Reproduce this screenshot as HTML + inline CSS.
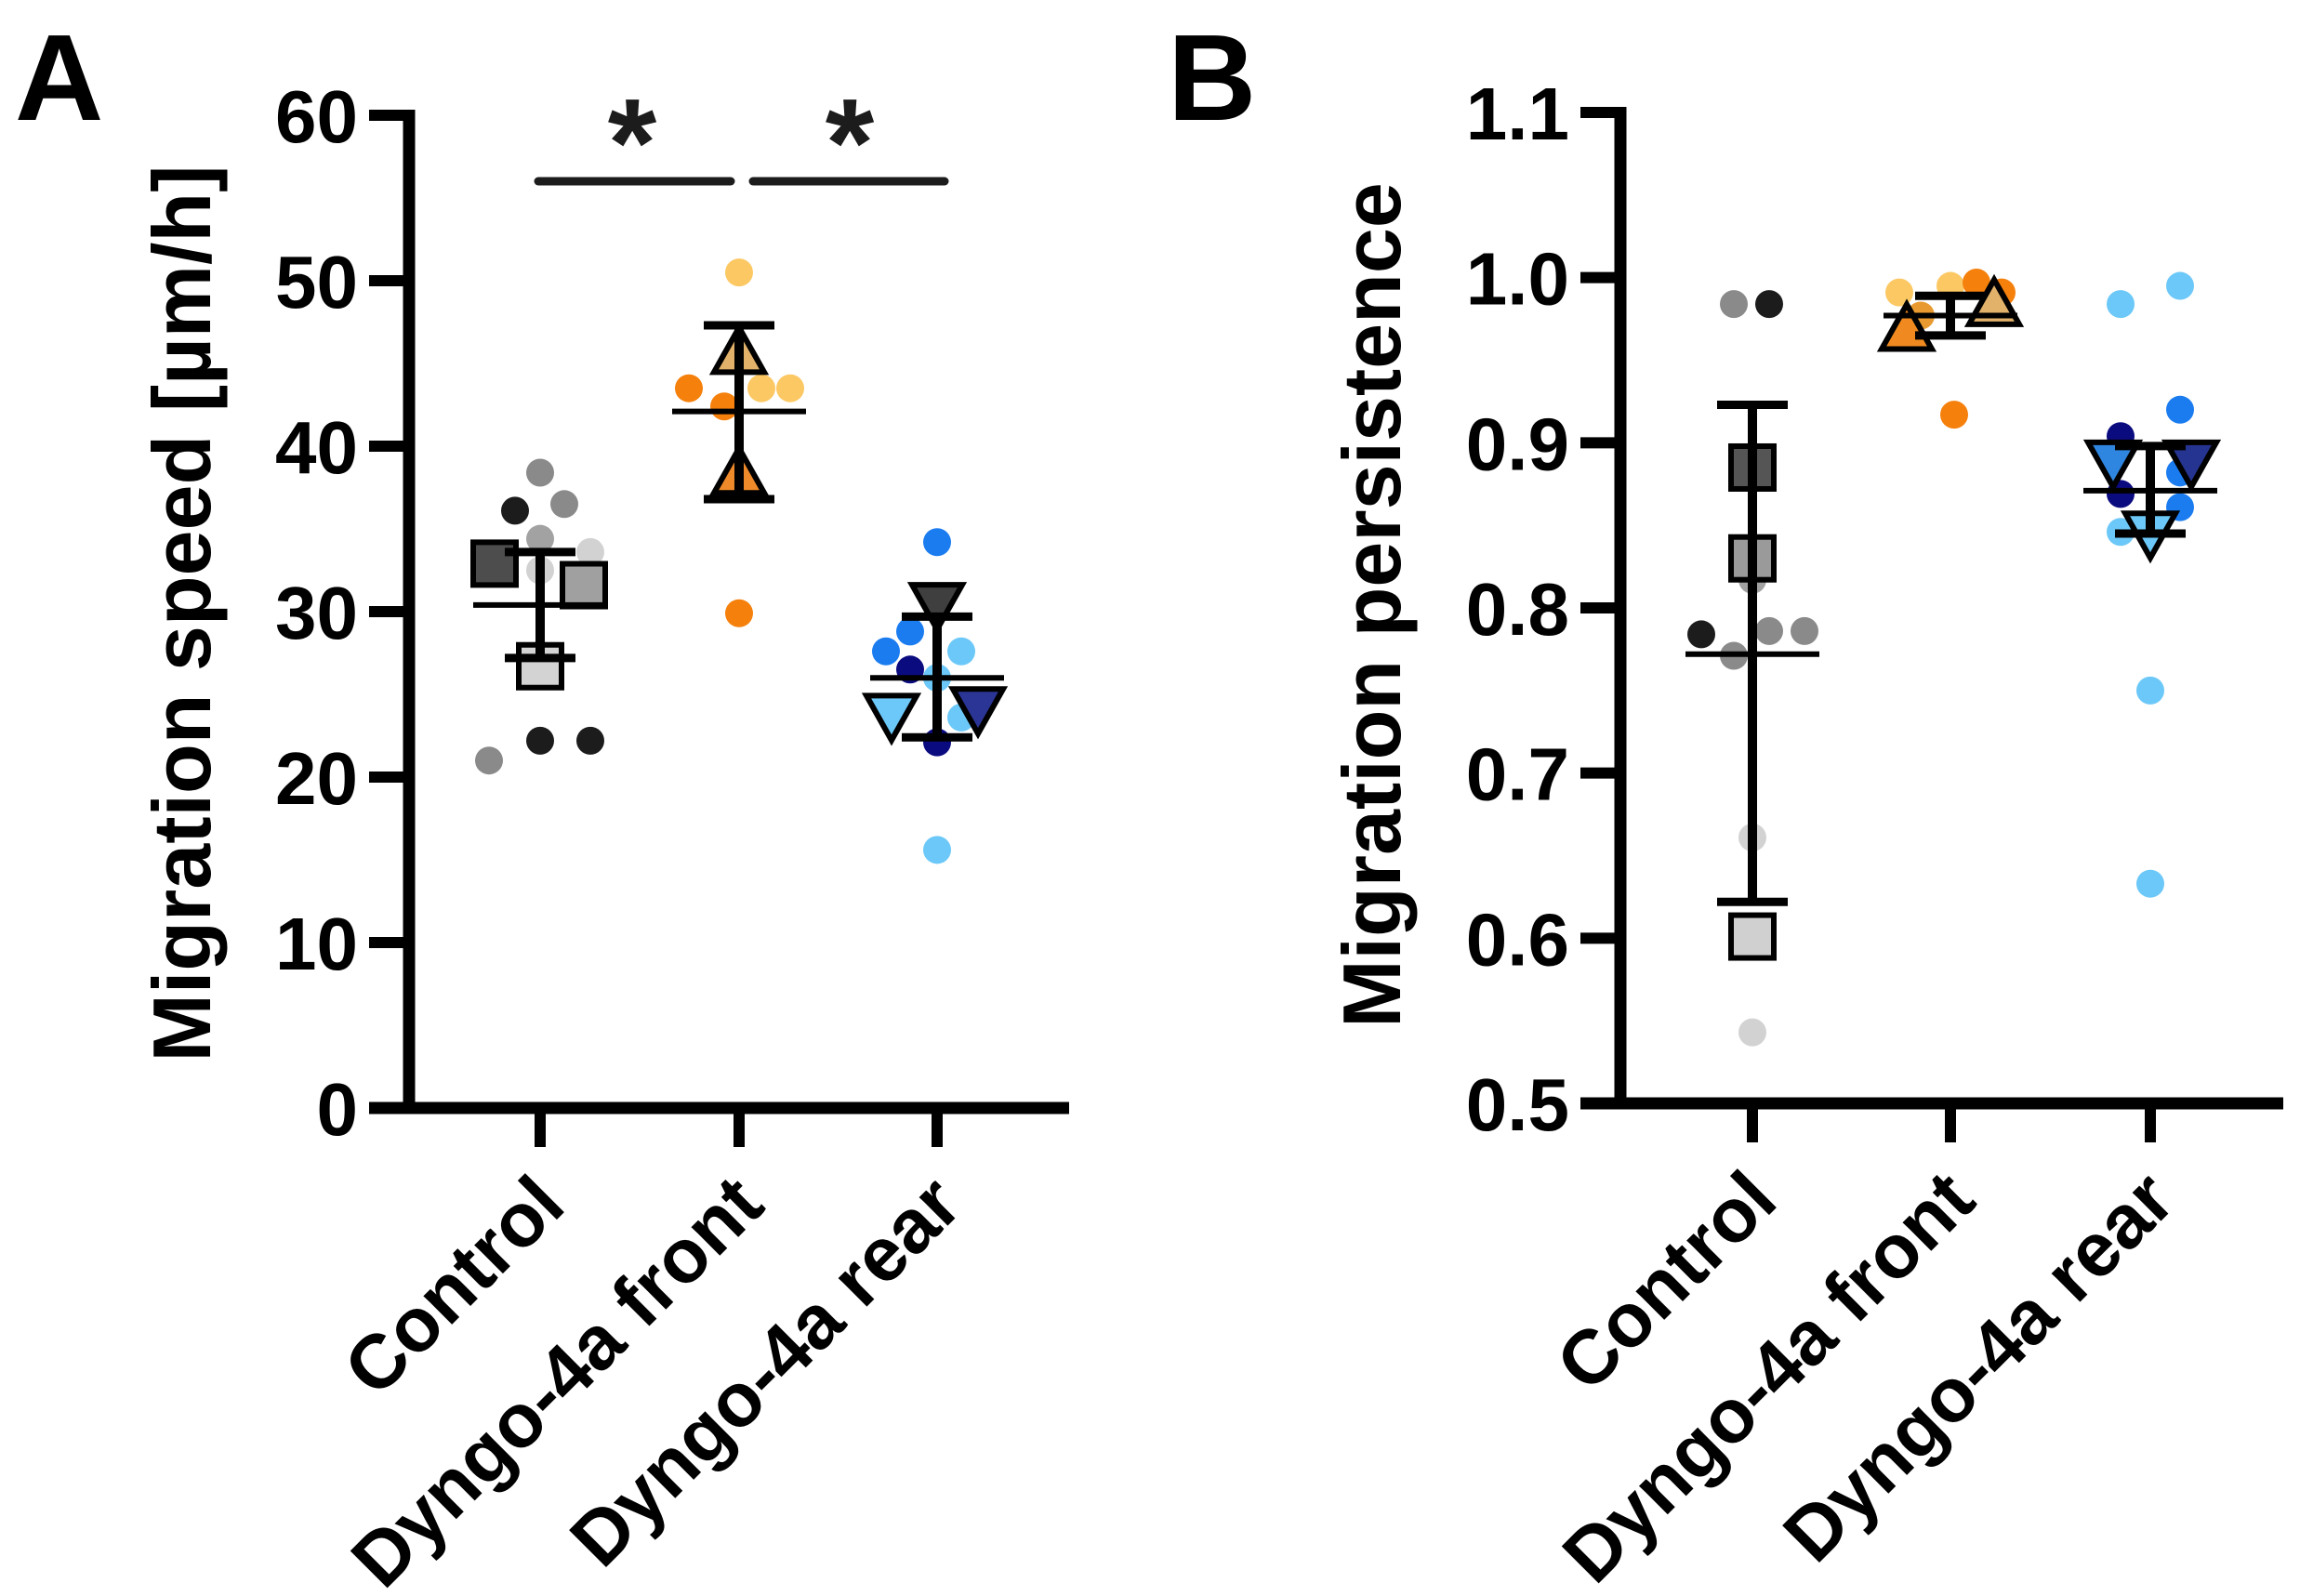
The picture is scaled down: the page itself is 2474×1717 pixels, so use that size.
<!DOCTYPE html>
<html><head><meta charset="utf-8"><style>
html,body{margin:0;padding:0;background:#fff;}
svg{display:block;font-family:"Liberation Sans",Arial,sans-serif;font-weight:bold;}
</style></head>
<body>
<svg id="fig" width="2474" height="1717" viewBox="0 0 2474 1717" xmlns="http://www.w3.org/2000/svg"></svg>
<script>
// ---------- DATA ----------
const categories = ["Control", "Dyngo-4a front", "Dyngo-4a rear"];
const ticksA = [0,10,20,30,40,50,60];
const tickLabelsA = ["0","10","20","30","40","50","60"];
const ticksB = [0.5,0.6,0.7,0.8,0.9,1.0,1.1];
const tickLabelsB = ["0.5","0.6","0.7","0.8","0.9","1.0","1.1"];

// Panel A – migration speed, individual cells
const speedCtrlCells = [38.4,36.1,36.5,34.4,33.6,32.5,27.4,22.2,22.2,21.0];
const speedFrontCells = [50.5,43.5,42.4,43.5,43.5,29.9];
const speedRearCells = [34.2,28.8,27.6,27.6,26.5,26.0,23.6,22.1,15.6];
// experiment means
const speedCtrlExp = [32.9,31.6,26.7];
const speedFrontExp = [45.6,38.3];
const speedRearExp = [30.5,23.8,24.2];
// mean and error
const speedMean = [30.4,42.1,26.0];
const speedErrHi = [33.6,47.3,29.7];
const speedErrLo = [27.2,36.8,22.4];

// Panel B – persistence
const persCtrlCells = [0.984,0.984,0.890,0.817,0.784,0.786,0.786,0.771,0.661,0.543];
const persFrontCells = [0.991,0.995,0.997,0.991,0.977,0.917];
const persRearCells = [0.984,0.995,0.920,0.904,0.869,0.882,0.861,0.846,0.750,0.633];
const persCtrlExp = [0.885,0.830,0.601];
const persFrontExp = [0.968,0.983];
const persRearExp = [0.889,0.889,0.846];
const persMean = [0.772,0.977,0.871];
const persErrHi = [0.923,0.989,0.898];
const persErrLo = [0.622,0.965,0.845];

// ---------- STYLE / LAYOUT (jitter offsets & colors) ----------
const K="#1c1c1c",G="#8a8a8a",M="#a2a2a2",L="#d2d2d2";
const OR="#f5800c",LO="#fcc863",TAN="#e2b26a";
const BL="#1b7cf0",NV="#0b0b80",LB="#6cc8f8";
const jA = [
 {dx:[0,-27,26,0,54,0,0,0,54,-55], col:[G,K,G,M,L,L,L,K,K,G],
  mdx:[-49,47,0], mcol:["#4d4d4d","#a0a0a0","#d3d3d3"], shape:"sq"},
 {dx:[0,-54,-16,24,55,0], col:[LO,OR,OR,LO,LO,OR],
  mdx:[0,0], mcol:[TAN,"#ef8a2a"], shape:"up"},
 {dx:[0,-29,-55,26,-29,0,26,0,0], col:[BL,BL,BL,LB,NV,LB,LB,NV,LB],
  mdx:[0,-49,44], mcol:["#3f3f3f",LB,"#2b3595"], shape:"dn"}
];
const jB = [
 {dx:[-20,18,0,0,-55,18,56,-20,0,0], col:[G,K,"#333",M,K,G,G,G,L,L],
  mdx:[0,0,0], mcol:["#555","#9a9a9a","#d0d0d0"], shape:"sq"},
 {dx:[-55,0,28,55,-32,4], col:[LO,LO,OR,OR,"#e89a30",OR],
  mdx:[-47,47], mcol:["#f08a20",TAN], shape:"up"},
 {dx:[-32,32,32,-32,-32,32,32,-32,0,0], col:[LB,LB,BL,NV,NV,BL,BL,LB,LB,LB],
  mdx:[-40,44,0], mcol:["#2f86e0","#253490",LB], shape:"dn"}
];

const svg=document.getElementById('fig');
const NS="http://www.w3.org/2000/svg";
function mk(tag,attrs,parent){const e=document.createElementNS(NS,tag);for(const k in attrs)e.setAttribute(k,attrs[k]);(parent||svg).appendChild(e);return e;}

function panel(cfg){
  const g=mk('g',{});
  
  
  const y=v=>cfg.y0+(v-cfg.vmin)/(cfg.vmax-cfg.vmin)*(cfg.y1-cfg.y0);
  const x=i=>cfg.cats[i];
  const ya=mk('line',{x1:cfg.ax,y1:y(cfg.vmax)-6,x2:cfg.ax,y2:cfg.y0+6,stroke:"#000","stroke-width":13},g);
  
  
  const xa=mk('line',{x1:cfg.ax-43,y1:cfg.y0,x2:cfg.xEnd,y2:cfg.y0,stroke:"#000","stroke-width":13},g);
  
  
  cfg.ticks.forEach((t,i)=>{
    const tl=mk('line',{x1:cfg.ax-43,y1:y(t),x2:cfg.ax,y2:y(t),stroke:"#000","stroke-width":12},g);
    
    
    const tx=mk('text',{x:cfg.ax-55,y:y(t)+29,"text-anchor":"end","font-size":80},g);
    tx.textContent=cfg.tickLabels[i];
    
    
  });
  categories.forEach((c,i)=>{
    const tl=mk('line',{x1:x(i),y1:cfg.y0,x2:x(i),y2:cfg.y0+42,stroke:"#000","stroke-width":12},g);
    
    
    const tx=mk('text',{x:0,y:0,"text-anchor":"end","font-size":82,transform:`translate(${x(i)+30},${cfg.y0+108}) rotate(-45)`},g);
    tx.textContent=c;
    
    
  });
  const yt=mk('text',{x:0,y:0,"text-anchor":"middle","font-size":88,transform:`translate(${cfg.titleX},${cfg.titleY}) rotate(-90)`},g);
  yt.textContent=cfg.title;
  
  
  const pl=mk('text',{x:cfg.letterX,y:129,"font-size":132},g);
  pl.textContent=cfg.letter;
  
  
  cfg.cells.forEach((arr,gi)=>{
    arr.forEach((v,k)=>{
      const c=mk('circle',{cx:x(gi)+cfg.jit[gi].dx[k],cy:y(v),r:15,fill:cfg.jit[gi].col[k]},g);
      
      
    });
  });
  cfg.exps.forEach((arr,gi)=>{
    const j=cfg.jit[gi];
    arr.forEach((v,k)=>{
      const cx=x(gi)+j.mdx[k],cy=y(v);let e;
      if(j.shape==="sq") e=mk('rect',{x:cx-23,y:cy-23,width:46,height:46,fill:j.mcol[k],stroke:"#000","stroke-width":6},g);
      else if(j.shape==="up") e=mk('polygon',{points:`${cx},${cy-28} ${cx-27},${cy+20} ${cx+27},${cy+20}`,fill:j.mcol[k],stroke:"#000","stroke-width":6},g);
      else e=mk('polygon',{points:`${cx},${cy+28} ${cx-27},${cy-20} ${cx+27},${cy-20}`,fill:j.mcol[k],stroke:"#000","stroke-width":6},g);
      
      
    });
  });
  cfg.mean.forEach((m,gi)=>{
    const cx=x(gi);
    const v=mk('line',{x1:cx,y1:y(cfg.hi[gi]),x2:cx,y2:y(cfg.lo[gi]),stroke:"#000","stroke-width":10},g);
    
    
    [cfg.hi[gi],cfg.lo[gi]].forEach(val=>{
      const c=mk('line',{x1:cx-38,y1:y(val),x2:cx+38,y2:y(val),stroke:"#000","stroke-width":9},g);
      
      
    });
    const ml=mk('line',{x1:cx-72,y1:y(m),x2:cx+72,y2:y(m),stroke:"#000","stroke-width":6},g);
    
    
  });
  return {g,x,y};
}

const A=panel({name:"panel-a-speed",ax:440,y0:1192,y1:124,vmin:0,vmax:60,xEnd:1150,cats:[581,795,1008],
  ticks:ticksA,tickLabels:tickLabelsA,title:"Migration speed [µm/h]",titleX:226,titleY:660,letter:"A",letterX:16,
  cells:[speedCtrlCells,speedFrontCells,speedRearCells],exps:[speedCtrlExp,speedFrontExp,speedRearExp],
  jit:jA,mean:speedMean,hi:speedErrHi,lo:speedErrLo});
const B=panel({name:"panel-b-persistence",ax:1743,y0:1187,y1:121,vmin:0.5,vmax:1.1,xEnd:2456,cats:[1885,2098,2313],
  ticks:ticksB,tickLabels:tickLabelsB,title:"Migration persistence",titleX:1506,titleY:651,letter:"B",letterX:1256,
  cells:[persCtrlCells,persFrontCells,persRearCells],exps:[persCtrlExp,persFrontExp,persRearExp],
  jit:jB,mean:persMean,hi:persErrHi,lo:persErrLo});

[[579,786,680],[810,1016,914]].forEach(s=>{
  const l=mk('line',{x1:s[0],y1:195,x2:s[1],y2:195,stroke:"#1c1c1c","stroke-width":9,"stroke-linecap":"round"},A.g);
  
  
  const t=mk('text',{x:s[2],y:200,"text-anchor":"middle","font-size":135,fill:"#1c1c1c"},A.g);
  t.textContent="*";
  
  
});
</script>
</body></html>
